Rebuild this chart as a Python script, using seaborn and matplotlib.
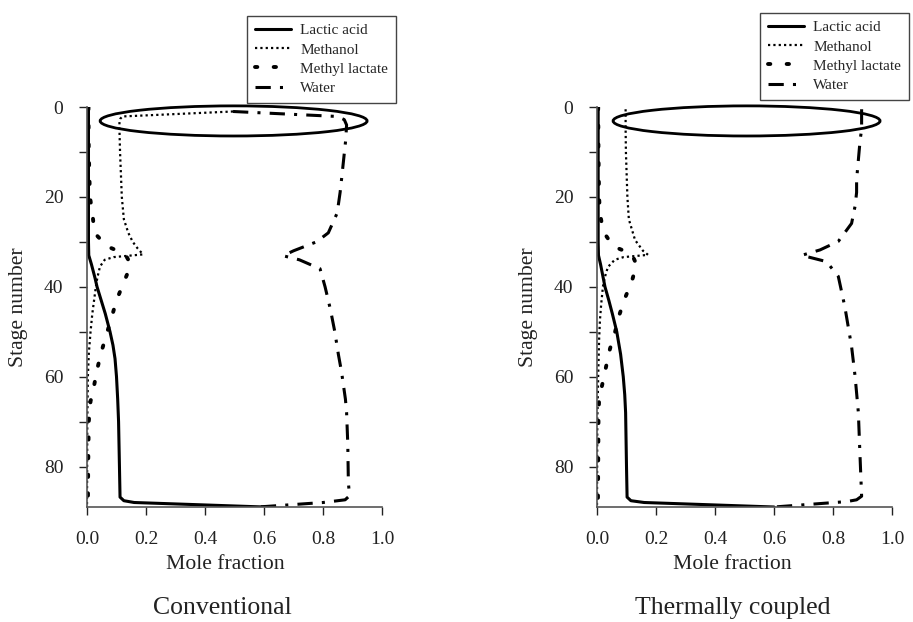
import matplotlib
matplotlib.use("Agg")
import matplotlib.pyplot as plt
from matplotlib.patches import Ellipse
import seaborn as sns

# --- Conventional column ---
la_stage_conv = [0, 10, 20, 30, 33, 35, 38, 40, 43, 46, 50, 53, 56, 60, 65, 70, 80, 86.8, 87.6, 88.0, 89]
la_conv = [0.005, 0.005, 0.005, 0.005, 0.006, 0.015, 0.027, 0.034, 0.048, 0.062, 0.078, 0.088, 0.095, 0.100, 0.104, 0.107, 0.110, 0.112, 0.125, 0.16, 0.6]

me_stage_conv = [1, 2.1, 2.6, 3.2, 5, 10, 20, 25, 28, 30, 31.5, 32.8, 33.4, 34, 35.5, 38, 40, 43, 46, 50, 55, 60, 70, 89]
me_conv = [0.495, 0.12, 0.113, 0.11, 0.11, 0.112, 0.118, 0.125, 0.14, 0.155, 0.172, 0.19, 0.09, 0.06, 0.044, 0.035, 0.03, 0.024, 0.018, 0.012, 0.006, 0.003, 0.001, 0.0]

ml_stage_conv = [0, 10, 20, 24, 28, 31, 32.7, 34, 35.6, 39.3, 43, 46.7, 50.4, 54.2, 58.2, 62, 65.5, 70, 80, 89]
ml_conv = [0.005, 0.006, 0.01, 0.019, 0.025, 0.068, 0.129, 0.14, 0.146, 0.123, 0.10, 0.084, 0.067, 0.05, 0.035, 0.024, 0.012, 0.006, 0.004, 0.003]

wa_stage_conv = [1, 2.1, 2.8, 4, 7.3, 16, 19, 23.6, 28, 30, 32, 33.1, 34, 36, 40, 45, 50, 55, 59, 65, 68, 75, 83.6, 86.5, 87.4, 88.0, 89]
wa_conv = [0.495, 0.847, 0.872, 0.88, 0.877, 0.863, 0.858, 0.848, 0.818, 0.778, 0.70, 0.665, 0.72, 0.79, 0.807, 0.825, 0.84, 0.852, 0.863, 0.876, 0.88, 0.884, 0.886, 0.89, 0.875, 0.80, 0.58]

# --- Thermally coupled column ---
la_stage_tc = [0, 10, 20, 30, 33, 35, 38, 40, 43, 46, 50, 55, 60, 64, 68, 80, 86.8, 87.6, 88.0, 89]
la_tc = [0.004, 0.004, 0.004, 0.004, 0.005, 0.012, 0.021, 0.027, 0.04, 0.052, 0.067, 0.08, 0.089, 0.094, 0.097, 0.100, 0.102, 0.115, 0.16, 0.6]

me_stage_tc = [0.5, 5, 10, 20, 25, 29.6, 32, 32.9, 33.4, 34, 35.6, 38, 40, 44, 47.4, 52, 60, 70, 89]
me_tc = [0.097, 0.097, 0.098, 0.103, 0.108, 0.129, 0.156, 0.173, 0.09, 0.06, 0.037, 0.026, 0.02, 0.014, 0.01, 0.007, 0.004, 0.001, 0.0]

ml_stage_tc = [0, 10, 20, 23.6, 27.7, 31, 32.7, 35.1, 38.8, 42.5, 46.2, 50.1, 53.8, 57.7, 61.4, 65, 70, 80, 89]
ml_tc = [0.004, 0.005, 0.007, 0.01, 0.021, 0.055, 0.118, 0.134, 0.118, 0.095, 0.076, 0.061, 0.044, 0.031, 0.019, 0.007, 0.005, 0.004, 0.003]

wa_stage_tc = [0.5, 5, 7.3, 16.2, 19, 22, 25.9, 29.9, 31.8, 33, 34.4, 37.7, 44.4, 53.3, 60, 68, 75, 86.6, 87.4, 87.8, 89]
wa_tc = [0.897, 0.897, 0.892, 0.88, 0.88, 0.875, 0.863, 0.818, 0.756, 0.694, 0.778, 0.818, 0.84, 0.863, 0.875, 0.886, 0.89, 0.897, 0.88, 0.846, 0.6]

labels = ["Lactic acid", "Methanol", "Methyl lactate", "Water"]
titles = ["Conventional", "Thermally coupled"]

sns.set_style("ticks")
plt.rcParams["font.family"] = ["Liberation Serif", "DejaVu Serif"]

fig = plt.figure(figsize=(9.13, 6.22), dpi=100)
ax1 = fig.add_axes([87 / 913, 1 - 507 / 622, 295 / 913, 400 / 622])
ax2 = fig.add_axes([597 / 913, 1 - 507 / 622, 295 / 913, 400 / 622])

styles = [
    dict(linestyle="-", lw=2.2),
    dict(linestyle=(0, (1, 1.4)), lw=1.6),
    dict(linestyle=(0, (0.6, 4.2)), lw=2.8, dash_capstyle="round"),
    dict(linestyle=(0, (5, 3, 1, 3)), lw=2.2),
]

panels = [
    (ax1, [(la_conv, la_stage_conv), (me_conv, me_stage_conv), (ml_conv, ml_stage_conv), (wa_conv, wa_stage_conv)], 0.497, (247, 16), -0.2, 0.468),
    (ax2, [(la_tc, la_stage_tc), (me_tc, me_stage_tc), (ml_tc, ml_stage_tc), (wa_tc, wa_stage_tc)], 0.507, (760, 13), -0.2, 0.458),
]

for ax, series, ecx, leg_xy, ylab_x, xlab_x in panels:
    for (xs, ys), lab, st in zip(series, labels, styles):
        sns.lineplot(x=xs, y=ys, sort=False, estimator=None, color="black",
                     label=lab, ax=ax, **st)
    ax.add_patch(Ellipse((ecx, 3.1), 0.905, 6.7, fill=False, edgecolor="black",
                         lw=2, clip_on=False))
    ax.set_xlim(0, 1.0)
    ax.set_ylim(89, 0)
    ax.set_xticks([0, 0.2, 0.4, 0.6, 0.8, 1.0])
    ax.set_xticklabels(["0.0", "0.2", "0.4", "0.6", "0.8", "1.0"])
    ax.set_yticks([0, 20, 40, 60, 80])
    ax.set_yticks([10, 30, 50, 70], minor=True)
    ax.tick_params(which="both", direction="out", length=6, width=1, labelsize=14,
                   pad=11, colors="#222222")
    for s in ["top", "right"]:
        ax.spines[s].set_visible(False)
    for s in ["left", "bottom"]:
        ax.spines[s].set_color("#555555")
        ax.spines[s].set_linewidth(1.2)
    ax.set_xlabel("Mole fraction", fontsize=15.6, color="#222222")
    ax.set_ylabel("Stage number", fontsize=15.6, color="#222222")
    ax.xaxis.set_label_coords(xlab_x, -0.12)
    ax.yaxis.set_label_coords(ylab_x, 0.5)
    ax.legend(loc="upper left", bbox_to_anchor=(leg_xy[0] / 913, 1 - leg_xy[1] / 622),
              bbox_transform=fig.transFigure, fontsize=11, frameon=True,
              fancybox=False, edgecolor="#444444", framealpha=1, labelspacing=0.36,
              handlelength=2.4, handletextpad=0.6, borderpad=0.5, borderaxespad=0)

fig.text(222 / 913, 1 - 608 / 622, titles[0], ha="center", va="center", fontsize=18.5, color="#222222")
fig.text(733 / 913, 1 - 608 / 622, titles[1], ha="center", va="center", fontsize=18.5, color="#222222")

fig.savefig("out.png", dpi=100)
